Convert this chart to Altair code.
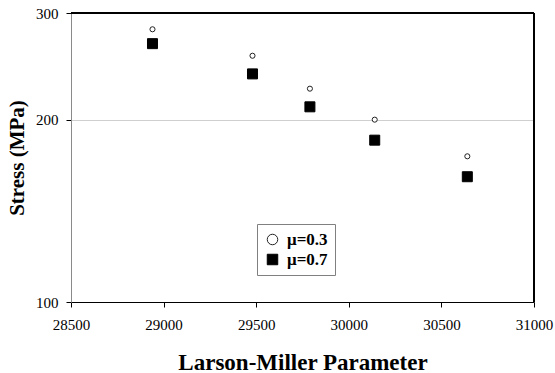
import altair as alt
import pandas as pd

# Larson-Miller parameter for each test and rupture stress (MPa) per friction coefficient
lmp = [28940, 29480, 29790, 30140, 30640]
stress_mu03 = [282, 255, 225, 200, 174]
stress_mu07 = [267, 238, 210, 185, 161]
series = ["μ=0.3", "μ=0.7"]

x_ticks = [28500, 29000, 29500, 30000, 30500, 31000]
y_ticks = [100, 200, 300]

rows = []
for name, vals in zip(series, [stress_mu03, stress_mu07]):
    for p, s in zip(lmp, vals):
        rows.append({"lmp": p, "stress": s, "series": name})
df = pd.DataFrame(rows)

FONT = "Liberation Serif"

x_scale = alt.Scale(domain=[28500, 31000], nice=False, zero=False)
y_scale = alt.Scale(type="log", domain=[100, 300], nice=False)

legend = alt.Legend(
    title=None, orient="none", legendX=186, legendY=211,
    strokeColor="#808080", fillColor="white", padding=7,
    labelFont=FONT, labelFontSize=17, labelFontWeight="bold",
    labelColor="black", labelOffset=6, rowPadding=2,
    symbolSize=110, symbolStrokeWidth=1,
)

x_enc = alt.X(
    "lmp:Q",
    scale=x_scale,
    axis=alt.Axis(
        values=x_ticks, format="d", grid=False, labelFlush=False,
        title="Larson-Miller Parameter",
        titleFont=FONT, titleFontSize=23, titleFontWeight="bold",
        titleColor="black", titlePadding=19,
        labelFont=FONT, labelFontSize=15, labelColor="black",
        labelPadding=10, tickSize=5, tickColor="black",
        domainColor="black",
    ),
)
y_enc = alt.Y(
    "stress:Q",
    scale=y_scale,
    axis=alt.Axis(
        values=y_ticks, format="d", grid=True, gridColor="#cfcfcf",
        labelFlush=False,
        title="Stress (MPa)",
        titleFont=FONT, titleFontSize=21, titleFontWeight="bold",
        titleColor="black", titlePadding=8,
        labelFont=FONT, labelFontSize=15, labelColor="black",
        labelPadding=8, tickSize=5, tickColor="black",
        domainColor="#8a8a8a",
    ),
)
shape_enc = alt.Shape(
    "series:N",
    scale=alt.Scale(domain=series, range=["circle", "square"]),
    legend=legend,
)
fill_enc = alt.Fill(
    "series:N",
    scale=alt.Scale(domain=series, range=["white", "black"]),
    legend=legend,
)
stroke_enc = alt.Stroke(
    "series:N",
    scale=alt.Scale(domain=series, range=["#222222", "black"]),
    legend=legend,
)

base = alt.Chart(df).encode(
    x=x_enc, y=y_enc, shape=shape_enc, fill=fill_enc, stroke=stroke_enc
)

# small hollow circles for mu = 0.3, larger filled squares for mu = 0.7
circles = base.transform_filter(alt.datum.series == series[0]).mark_point(
    filled=True, size=26, strokeWidth=1, opacity=1
)
squares = base.transform_filter(alt.datum.series == series[1]).mark_point(
    filled=True, size=100, strokeWidth=1, opacity=1
)

# top and right edges of the plot frame
top_edge = alt.Chart(df).mark_rule(color="black", strokeWidth=1).encode(
    x=alt.datum(28500), x2=alt.datum(31000), y=alt.datum(300)
)
right_edge = alt.Chart(df).mark_rule(color="black", strokeWidth=1).encode(
    x=alt.datum(31000), y=alt.datum(100), y2=alt.datum(300)
)

chart = alt.layer(top_edge, right_edge, circles, squares).properties(
    width=463,
    height=289,
    autosize=alt.AutoSizeParams(type="none"),
    padding={"left": 71, "top": 13, "right": 21, "bottom": 71},
    background="white",
).configure_view(stroke=None)

chart.save("out.html", embed_options={"renderer": "svg", "actions": False})
